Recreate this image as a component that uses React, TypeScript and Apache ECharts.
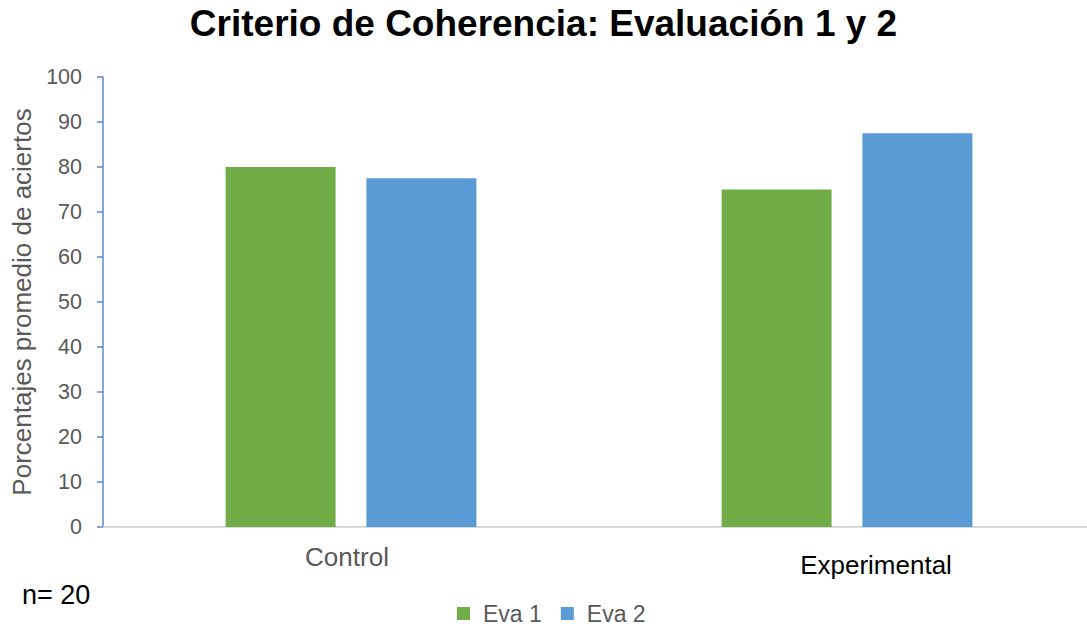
import React, { useEffect, useRef } from "react";
import * as echarts from "echarts";

const categories = ["Control", "Experimental"];
const seriesNames = ["Eva 1", "Eva 2"];
const eva1 = [80, 75];
const eva2 = [77.5, 87.5];
const yTicks = [0, 10, 20, 30, 40, 50, 60, 70, 80, 90, 100];

const FONT = "'Liberation Sans', Arial, sans-serif";

export default function App() {
  const ref = useRef<HTMLDivElement>(null);
  useEffect(() => {
    if (!ref.current) return;
    const chart = echarts.init(ref.current, undefined, { renderer: "svg" });
    chart.setOption({
      animation: false,
      backgroundColor: "#ffffff",
      textStyle: { fontFamily: FONT },
      title: {
        text: "Criterio de Coherencia: Evaluación 1 y 2",
        left: "center",
        top: 0,
        textStyle: { fontFamily: FONT, fontSize: 37, fontWeight: "bold", color: "#000000" },
      },
      legend: {
        data: seriesNames,
        top: 597,
        left: 452,
        itemWidth: 13,
        itemHeight: 13,
        itemGap: 19,
        icon: "rect",
        textStyle: { fontFamily: FONT, fontSize: 23, color: "#595959", padding: [0, 0, 0, 8] },
      },
      grid: { left: 103, width: 992, top: 77, bottom: 99, containLabel: false, outerBoundsMode: "none" },
      xAxis: {
        type: "category",
        data: categories,
        axisLine: { show: true, lineStyle: { color: "#D9D9D9", width: 2 } },
        axisTick: { show: false },
        axisLabel: {
          margin: 17,
          formatter: (v: string) => (v === "Experimental" ? `{e|${v}}` : `{c|${v}}`),
          rich: {
            c: { fontFamily: FONT, fontSize: 26, color: "#595959", padding: [0, 8, 0, 0] },
            e: { fontFamily: FONT, fontSize: 26, color: "#000000", padding: [8, 0, 0, 58] },
          },
        },
      },
      yAxis: {
        type: "value",
        min: yTicks[0],
        max: yTicks[yTicks.length - 1],
        interval: 10,
        name: "Porcentajes promedio de aciertos",
        nameLocation: "middle",
        nameGap: 67,
        nameTextStyle: { fontFamily: FONT, fontSize: 26, color: "#595959" },
        axisLine: { show: true, lineStyle: { color: "#5B86D0", width: 1.5 } },
        axisTick: { show: true, length: 6, lineStyle: { color: "#5B86D0", width: 1.5 } },
        splitLine: { show: false },
        axisLabel: { margin: 21, fontFamily: FONT, fontSize: 21.5, color: "#595959" },
      },
      series: [
        {
          name: seriesNames[0],
          type: "bar",
          data: eva1,
          barWidth: 110,
          barGap: "28%",
          itemStyle: { color: "#70AD47" },
        },
        {
          name: seriesNames[1],
          type: "bar",
          data: eva2,
          barWidth: 110,
          barGap: "28%",
          itemStyle: { color: "#5B9BD5" },
        },
      ],
      graphic: [
        {
          type: "text",
          left: 22,
          top: 581,
          style: { text: "n= 20", fontFamily: FONT, fontSize: 27, fill: "#000000" },
        },
      ],
    });
    return () => chart.dispose();
  }, []);
  return <div ref={ref} style={{ width: 1087, height: 626, position: "absolute", left: 0, top: 0 }} />;
}
